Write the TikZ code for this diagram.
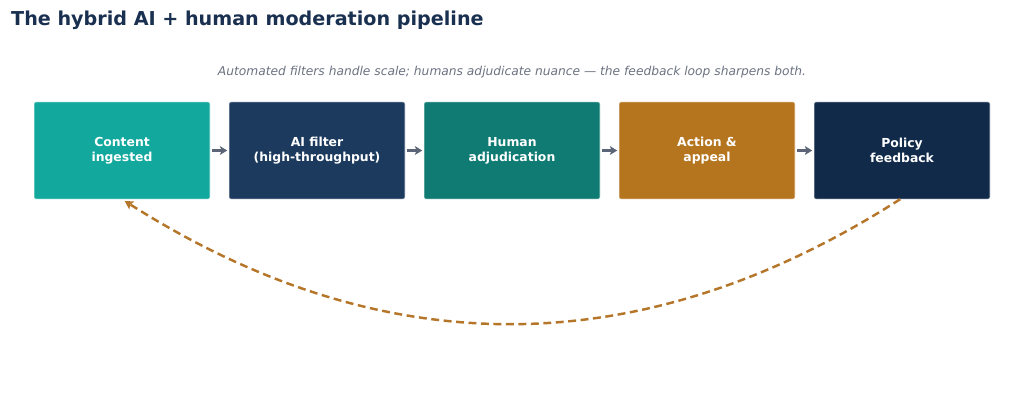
\documentclass[tikz,border=0pt]{standalone}
\usepackage{fontspec}
\setmainfont{DejaVu Sans}
\usetikzlibrary{arrows.meta}
\definecolor{titlec}{HTML}{1A3050}
\definecolor{subc}{HTML}{6B7280}
\definecolor{cA}{HTML}{12A89D}
\definecolor{cB}{HTML}{1C3A5E}
\definecolor{cC}{HTML}{0F7B73}
\definecolor{cD}{HTML}{B5751F}
\definecolor{cE}{HTML}{112A4A}
\definecolor{arrc}{HTML}{5B6577}
\definecolor{loopc}{HTML}{B5762A}
\tikzset{
  stagebox/.style={rectangle, rounded corners=1.3pt, minimum width=176*0.5669pt, minimum height=97*0.5669pt,
    inner sep=0pt, text=white, font=\bfseries\fontsize{7.05}{8.5}\selectfont, align=center, line width=0.4pt},
  flowarrow/.style={draw=arrc, line width=1.3pt, -{Stealth[length=4.2pt,width=5pt,inset=1pt]}},
  loopline/.style={draw=loopc, line width=1.4pt, dash pattern=on 4.5pt off 2.6pt, -{Stealth[length=4.8pt,width=5.2pt,inset=1pt]}}
}
\begin{document}
\begin{tikzpicture}[x=0.02cm,y=-0.02cm]
\useasboundingbox (0,0) rectangle (1024,410);
\node[anchor=west, text=titlec, font=\bfseries\fontsize{10.9}{13}\selectfont] (title) at (5,20) {The hybrid AI + human moderation pipeline};
\node[text=subc, font=\itshape\fontsize{6.97}{9}\selectfont] (sub) at (512,72.5) {Automated filters handle scale; humans adjudicate nuance — the feedback loop sharpens both.};
\node[stagebox, fill=cA, draw=cA!75!white] (b1) at (122,150.5) {Content\\ingested};
\node[stagebox, fill=cB, draw=cB!75!white] (b2) at (317,150.5) {AI filter\\(high-throughput)};
\node[stagebox, fill=cC, draw=cC!75!white] (b3) at (512,150.5) {Human\\adjudication};
\node[stagebox, fill=cD, draw=cD!75!white] (b4) at (707,150.5) {Action \&\\appeal};
\node[stagebox, fill=cE, draw=cE!75!white] (b5) at (902,150.5) {Policy\\feedback};
\draw[flowarrow] ([xshift=1pt]b1.east) -- ([xshift=-1pt]b2.west);
\draw[flowarrow] ([xshift=1pt]b2.east) -- ([xshift=-1pt]b3.west);
\draw[flowarrow] ([xshift=1pt]b3.east) -- ([xshift=-1pt]b4.west);
\draw[flowarrow] ([xshift=1pt]b4.east) -- ([xshift=-1pt]b5.west);
\draw[loopline] ([xshift=-1pt]b5.south) .. controls (641,365) and (383,365) .. ([xshift=1.5pt,yshift=-1pt]b1.south);
\end{tikzpicture}
\end{document}
